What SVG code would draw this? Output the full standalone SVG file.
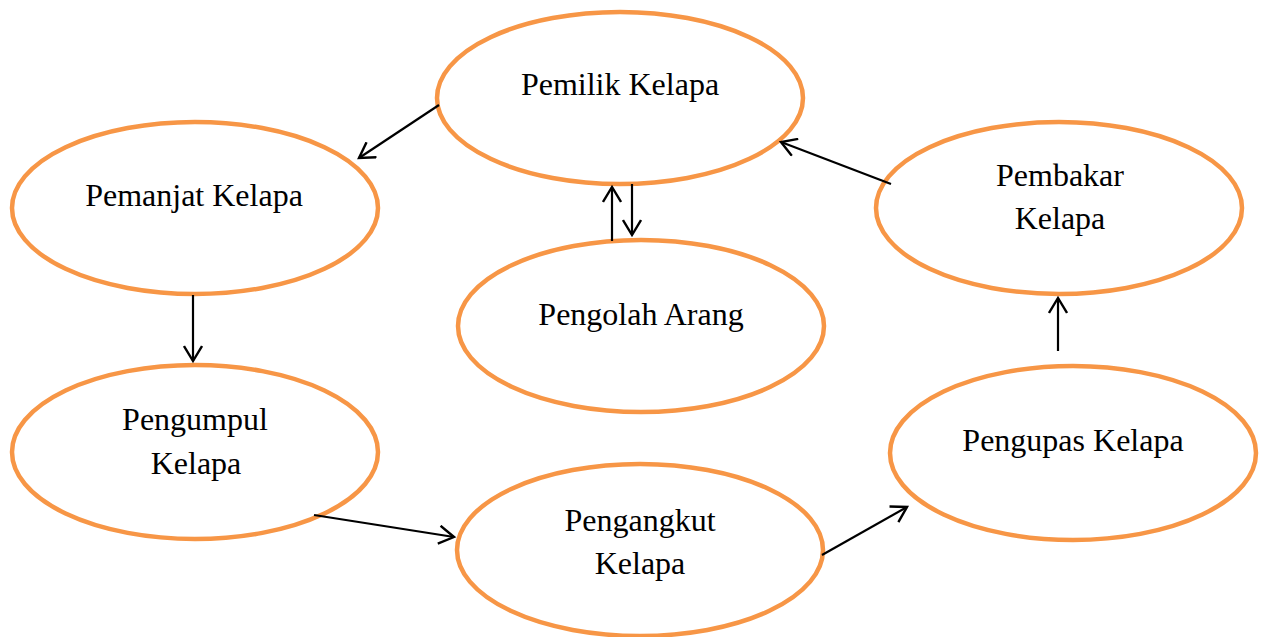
<svg xmlns="http://www.w3.org/2000/svg" width="1261" height="637" viewBox="0 0 1261 637">
<style>
.node ellipse{fill:#fff;stroke:#F79646;stroke-width:4.5}
.node text{font-family:"Liberation Serif","Times New Roman",serif;font-size:32px;fill:#000;text-anchor:middle}
.conn line{stroke:#000;stroke-width:2.2;marker-end:url(#arr)}
</style>
<defs>
<marker id="arr" markerUnits="userSpaceOnUse" viewBox="0 0 20 20" refX="16" refY="10" markerWidth="20" markerHeight="20" orient="auto">
<path d="M1,1 L16,10 L1,19" fill="none" stroke="#000" stroke-width="2.4"/>
</marker>
</defs>
<rect width="1261" height="637" fill="#fff"/>
<g id="n-pemilik" class="node"><ellipse cx="620" cy="98" rx="183" ry="86"/><text x="620" y="95">Pemilik Kelapa</text></g>
<g id="n-pemanjat" class="node"><ellipse cx="195" cy="208" rx="183" ry="86"/><text x="194" y="206">Pemanjat Kelapa</text></g>
<g id="n-pengolah" class="node"><ellipse cx="641" cy="326" rx="183" ry="86"/><text x="641" y="325">Pengolah Arang</text></g>
<g id="n-pembakar" class="node"><ellipse cx="1059" cy="208" rx="183" ry="86"/><text x="1060" y="186">Pembakar</text><text x="1060" y="229">Kelapa</text></g>
<g id="n-pengumpul" class="node"><ellipse cx="195" cy="452" rx="183" ry="87"/><text x="195" y="430">Pengumpul</text><text x="196" y="474">Kelapa</text></g>
<g id="n-pengupas" class="node"><ellipse cx="1073" cy="453" rx="183" ry="87"/><text x="1073" y="451">Pengupas Kelapa</text></g>
<g id="n-pengangkut" class="node"><ellipse cx="640" cy="550" rx="183" ry="86"/><text x="640" y="531">Pengangkut</text><text x="640" y="574">Kelapa</text></g>
<g id="connectors" class="conn">
<line x1="439" y1="105" x2="359" y2="158"/>
<line x1="193" y1="295" x2="193" y2="361"/>
<line x1="612" y1="241" x2="612" y2="187"/>
<line x1="632" y1="184" x2="632" y2="235"/>
<line x1="891" y1="184" x2="781" y2="142"/>
<line x1="314" y1="515" x2="454" y2="537"/>
<line x1="822" y1="555" x2="907" y2="507"/>
<line x1="1058" y1="351" x2="1058" y2="298"/>
</g>
</svg>
